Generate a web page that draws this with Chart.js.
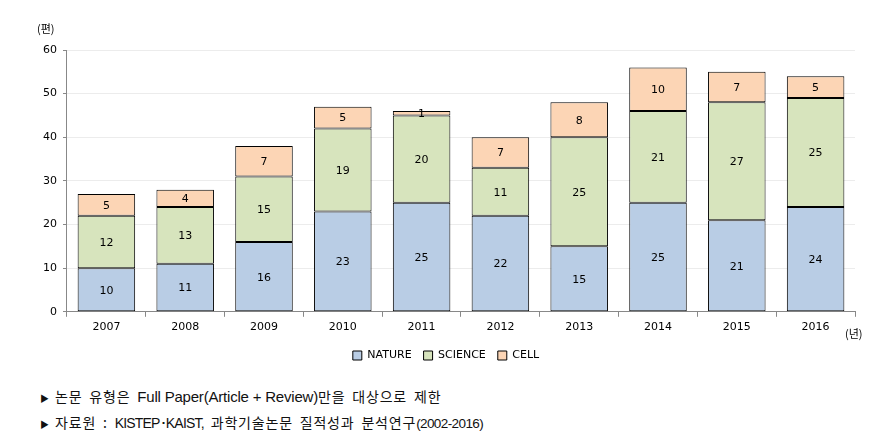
<!DOCTYPE html>
<html><head><meta charset="utf-8">
<script src="https://cdn.jsdelivr.net/npm/chart.js@4"></script>
<style>
body{margin:0;background:#fff;width:893px;height:443px;overflow:hidden;position:relative;font-family:"Noto Sans CJK KR","Noto Sans",sans-serif;}
#wrap{position:absolute;left:0;top:0;width:893px;height:372px;}
.unit{position:absolute;font-size:11px;color:#000;font-family:"Noto Sans CJK KR",sans-serif;}
.note{position:absolute;left:40px;font-size:14px;color:#111;word-spacing:3px;letter-spacing:0.8px;font-family:"Noto Sans CJK KR",sans-serif;white-space:nowrap;}
.note .tri{font-size:9px;margin-right:6px;letter-spacing:0;}
.note .lat{font-family:"Liberation Sans Narrow","Liberation Sans",sans-serif;word-spacing:0;}
.l1{font-size:15px;letter-spacing:-0.2px;}
.l2{font-size:14px;letter-spacing:-0.8px;}
.l3{font-size:13.5px;letter-spacing:-0.6px;}
</style></head><body>
<div id="wrap"><canvas id="c" width="893" height="372"></canvas></div>
<div class="unit" style="left:37px;top:20px;">(편)</div>
<div class="unit" style="left:845px;top:325px;">(년)</div>
<div class="note" style="top:386px;"><span class="tri">▶</span>논문 유형은 <span class="lat l1">Full Paper(Article + Review)</span>만을 대상으로 제한</div>
<div class="note" style="top:412px;"><span class="tri">▶</span>자료원 : <span class="lat l2">KISTEP･KAIST,</span> 과학기술논문 질적성과 분석연구<span class="lat l3">(2002-2016)</span></div>
<script>
const categories = ["2007","2008","2009","2010","2011","2012","2013","2014","2015","2016"];
const nature = [10,11,16,23,25,22,15,25,21,24];
const science = [12,13,15,19,20,11,25,21,27,25];
const cell = [5,4,7,5,1,7,8,10,7,5];
const yTicks = [0,10,20,30,40,50,60];

const labelPlugin = {
  id:'segLabels',
  afterDatasetsDraw(chart){
    const ctx = chart.ctx;
    ctx.save();
    ctx.font = '11px "DejaVu Sans", Verdana, sans-serif';
    ctx.fillStyle = '#000';
    ctx.textAlign = 'center';
    ctx.textBaseline = 'middle';
    chart.data.datasets.forEach((ds,i)=>{
      const meta = chart.getDatasetMeta(i);
      meta.data.forEach((bar,j)=>{
        const y = (bar.y + bar.base)/2;
        ctx.fillText(String(ds.data[j]), bar.x, y+1);
      });
    });
    ctx.restore();
  }
};

new Chart(document.getElementById('c'), {
  type:'bar',
  data:{
    labels:categories,
    datasets:[
      {label:'NATURE', data:nature, backgroundColor:'#b9cde5', borderColor:'#000', borderWidth:1, borderSkipped:false},
      {label:'SCIENCE', data:science, backgroundColor:'#d7e4bd', borderColor:'#000', borderWidth:1, borderSkipped:false},
      {label:'CELL', data:cell, backgroundColor:'#fcd5b5', borderColor:'#000', borderWidth:1, borderSkipped:false}
    ]
  },
  options:{
    responsive:false,
    animation:false,
    events:[],
    layout:{padding:{left:37,right:38,top:50,bottom:1}},
    datasets:{bar:{categoryPercentage:1.0, barPercentage:0.73}},
    scales:{
      x:{stacked:true,
        grid:{display:true,drawOnChartArea:false,drawTicks:true,tickLength:5,color:'#888',offset:true},
        border:{display:true,color:'#888'},
        ticks:{color:'#000',font:{size:11,family:'"DejaVu Sans", Verdana, sans-serif'},padding:4}
      },
      y:{stacked:true,min:0,max:60,
        afterBuildTicks(axis){axis.ticks = yTicks.map(v=>({value:v}));},
        grid:{color:'#ececec',drawTicks:true,tickLength:4,tickColor:'#888'},
        border:{display:true,color:'#888'},
        ticks:{color:'#000',font:{size:11,family:'"DejaVu Sans", Verdana, sans-serif'},padding:6}
      }
    },
    plugins:{
      legend:{position:'bottom',labels:{boxWidth:9,boxHeight:9,padding:12,color:'#000',font:{size:11,family:'"DejaVu Sans", Verdana, sans-serif'}}},
      tooltip:{enabled:false}
    }
  },
  plugins:[labelPlugin]
});
</script>
</body></html>
